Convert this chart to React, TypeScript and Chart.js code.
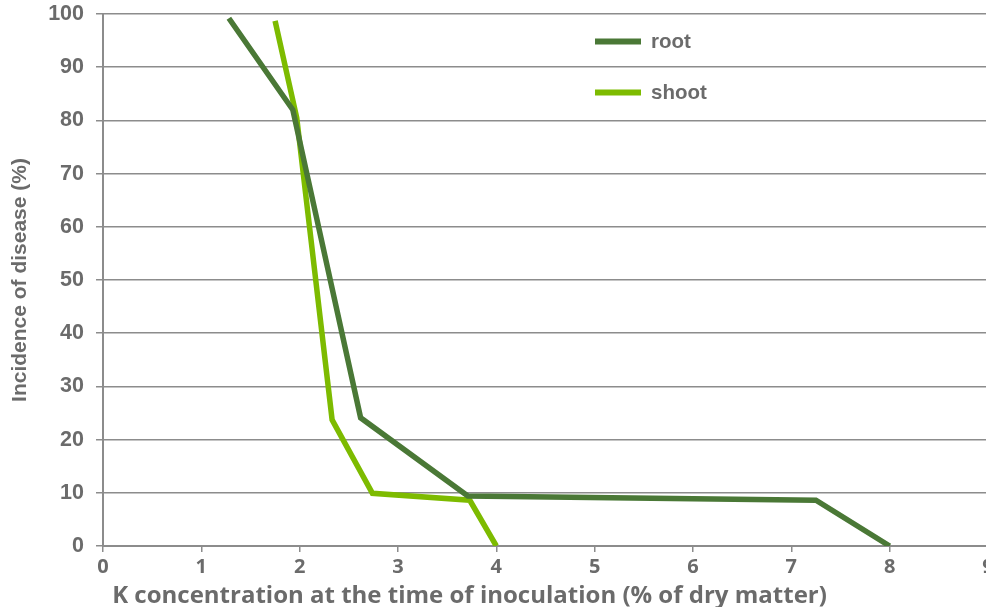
import React, { useEffect, useRef } from "react";
import { Chart, registerables } from "chart.js";

Chart.register(...registerables);

// ---- data ----
const rootX = [1.28, 1.93, 2.62, 3.71, 7.25, 8.0];
const rootY = [99.2, 82.0, 24.1, 9.4, 8.6, 0];
const shootX = [1.75, 1.97, 2.33, 2.74, 3.73, 4.0];
const shootY = [98.7, 80.5, 23.7, 9.9, 8.6, 0];
const seriesNames = ["root", "shoot"];
const seriesColors = ["#4a7836", "#7dbb00"];
const xTickValues = [0, 1, 2, 3, 4, 5, 6, 7, 8, 9];
const yTickValues = [0, 10, 20, 30, 40, 50, 60, 70, 80, 90, 100];
const X_TITLE = "K concentration at the time of inoculation (% of dry matter)";
const Y_TITLE = "Incidence of disease (%)";

const TEXT = "#6b6b6b";
const GRID = "#8c8c8c";
const X_FONT = "'Open Sans', sans-serif";

const overlayPlugin = {
  id: "overlay",
  afterDraw(chart: any) {
    const ctx = chart.ctx;
    const area = chart.chartArea;
    ctx.save();
    // legend
    const legendX = area.left + 492;
    const legendY = [41.5, 92.5];
    chart.data.datasets.forEach((ds: any, i: number) => {
      ctx.strokeStyle = ds.borderColor;
      ctx.lineWidth = 6;
      ctx.beginPath();
      ctx.moveTo(legendX, legendY[i]);
      ctx.lineTo(legendX + 46, legendY[i]);
      ctx.stroke();
      ctx.fillStyle = TEXT;
      ctx.font = "bold 20.5px 'Liberation Sans', Arial, sans-serif";
      ctx.textBaseline = "middle";
      ctx.textAlign = "left";
      ctx.fillText(ds.label, legendX + 56, legendY[i] + 1);
    });
    // x title, sized to span the reference width
    ctx.fillStyle = TEXT;
    ctx.font = `bold 20px ${X_FONT}`;
    const w = ctx.measureText(X_TITLE).width;
    const size = Math.min(24, (20 * 727) / w);
    ctx.font = `bold ${size.toFixed(2)}px ${X_FONT}`;
    ctx.textAlign = "center";
    ctx.textBaseline = "middle";
    ctx.fillText(X_TITLE, 469.5, 596);
    ctx.restore();
  },
};

export default function App() {
  const ref = useRef<HTMLCanvasElement | null>(null);
  useEffect(() => {
    if (!ref.current) return;
    const chart = new Chart(ref.current, {
      type: "line",
      data: {
        datasets: [
          {
            label: seriesNames[0],
            data: rootX.map((x, i) => ({ x, y: rootY[i] })),
            borderColor: seriesColors[0],
            backgroundColor: seriesColors[0],
            borderWidth: 5.5,
            pointRadius: 0,
            tension: 0,
            borderJoinStyle: "miter",
          },
          {
            label: seriesNames[1],
            data: shootX.map((x, i) => ({ x, y: shootY[i] })),
            borderColor: seriesColors[1],
            backgroundColor: seriesColors[1],
            borderWidth: 5.5,
            pointRadius: 0,
            tension: 0,
            borderJoinStyle: "miter",
          },
        ],
      },
      options: {
        animation: false,
        responsive: false,
        devicePixelRatio: 1,
        layout: { padding: { top: 14, right: 12, left: 0, bottom: 0 } },
        plugins: { legend: { display: false }, tooltip: { enabled: false } },
        scales: {
          x: {
            type: "linear",
            min: 0,
            max: 9,
            afterBuildTicks: (s: any) => {
              s.ticks = xTickValues.map((v) => ({ value: v }));
            },
            afterFit: (s: any) => {
              s.height = 61;
            },
            ticks: {
              color: TEXT,
              font: { family: X_FONT, weight: "bold", size: 20 },
              padding: 3,
              maxRotation: 0,
            },
            grid: {
              drawOnChartArea: false,
              drawTicks: true,
              tickLength: 6,
              color: GRID,
              lineWidth: 1.5,
            },
            border: { display: true, color: GRID, width: 2 },
          },
          y: {
            min: 0,
            max: 100,
            afterBuildTicks: (s: any) => {
              s.ticks = yTickValues.map((v) => ({ value: v }));
            },
            afterFit: (s: any) => {
              s.width = 103;
              s.paddingTop = 0;
              s.paddingBottom = 0;
            },
            ticks: {
              color: TEXT,
              font: { family: "'Liberation Sans', Arial, sans-serif", weight: "bold", size: 21.5 },
              padding: 12,
            },
            grid: {
              color: GRID,
              lineWidth: 1.5,
              drawTicks: true,
              tickLength: 7,
            },
            border: { display: true, color: GRID, width: 2 },
            title: {
              display: true,
              text: Y_TITLE,
              color: TEXT,
              font: { family: "'Liberation Sans', Arial, sans-serif", weight: "bold", size: 21 },
              padding: { top: 8, bottom: 0 },
            },
          },
        },
      },
      plugins: [overlayPlugin],
    });
    return () => chart.destroy();
  }, []);
  return (
    <div
      style={{
        position: "fixed",
        left: 0,
        top: 0,
        width: 986,
        height: 607,
        overflow: "hidden",
        background: "#fff",
      }}
    >
      <canvas ref={ref} width={1000} height={607} style={{ display: "block" }} />
    </div>
  );
}
